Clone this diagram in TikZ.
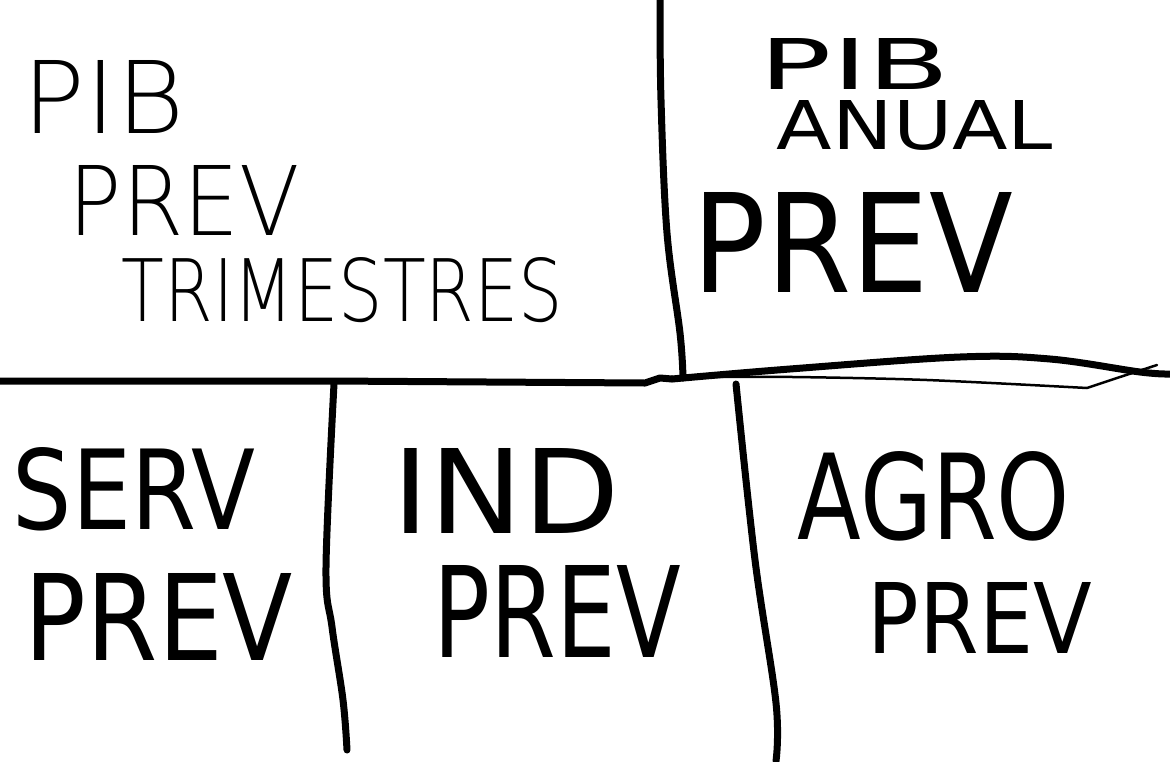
\documentclass[tikz,border=0pt]{standalone}
\usepackage{fontspec}
\usepackage{graphicx}
\setmainfont{DejaVu Sans}
\newfontfamily\thinfont{DejaVu Sans ExtraLight}
\newcommand\fitbox[3]{\resizebox{#1pt}{#2pt}{#3}}
\begin{document}
\begin{tikzpicture}[x=1pt,y=-1pt,
  txt/.style={inner sep=0pt,outer sep=0pt,anchor=center},
  thintxt/.style={txt,font=\thinfont},
  pen/.style={line width=7pt,line cap=round,line join=round,black},
  thinpen/.style={line width=2.5pt,line cap=round,line join=round,black}]
\useasboundingbox[fill=white] (0,0) rectangle (1170,761);
% frame lines
\draw[pen] (0,381) -- (330,381) -- (645,383) -- (660,378) -- (672,379);
\draw[pen] plot[smooth,tension=0.6] coordinates {(672,379) (790,369) (960,357) (1050,359) (1140,372) (1170,374)};
\draw[thinpen] plot[smooth,tension=0.5] coordinates {(685,377) (793,377) (927,380) (1087,388)} -- (1120,377) -- (1157,365);
\draw[pen] plot[smooth,tension=0.6] coordinates {(660,0) (661,100) (667,233) (680,333) (683,378)};
\draw[pen] plot[smooth,tension=0.6] coordinates {(334,384) (326,567) (332,627) (343,700) (347,750)};
\draw[pen] plot[smooth,tension=0.6] coordinates {(736,384) (755,560) (776,703) (776,761)};
% top left
\node[thintxt] (tlpib) at (104,96.5) {\fitbox{162}{73}{PIB}};
\node[thintxt] (tlprev) at (184.5,200) {\fitbox{231}{70}{PREV}};
\node[thintxt] (trim) at (342.5,290) {\fitbox{441}{64}{TRIMESTRES}};
% top right
\node[txt] (trpib) at (855,63.5) {\fitbox{190}{51}{PIB}};
\node[txt] (anual) at (915,125.5) {\fitbox{276}{49}{ANUAL}};
\node[txt] (trprev) at (853,242) {\fitbox{320}{100}{PREV}};
% bottom
\node[txt] (serv) at (134,489) {\fitbox{242}{82}{SERV}};
\node[txt] (servprev) at (159,616.5) {\fitbox{268}{87}{PREV}};
\node[txt] (ind) at (506.5,490.5) {\fitbox{227}{85}{IND}};
\node[txt] (indprev) at (557.5,611) {\fitbox{247}{92}{PREV}};
\node[txt] (agro) at (934,496) {\fitbox{272}{88}{AGRO}};
\node[txt] (agroprev) at (980,617.5) {\fitbox{224}{71}{PREV}};
\end{tikzpicture}
\end{document}
